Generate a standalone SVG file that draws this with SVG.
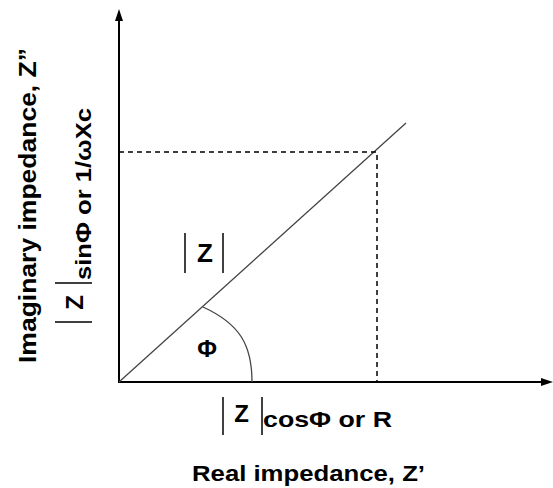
<svg xmlns="http://www.w3.org/2000/svg" width="553" height="488" viewBox="0 0 553 488">
<style>
.t{font-family:"Liberation Sans",Arial,sans-serif;font-weight:bold;fill:#000}
.axis{stroke:#000;stroke-width:2;fill:none}
.bar{stroke:#000;stroke-width:1.5}
.dash{stroke:#000;stroke-width:1.5;stroke-dasharray:5,4;fill:none}
.diag{stroke:#444;stroke-width:1.3;fill:none}
</style>
<rect width="553" height="488" fill="#fff"/>
<g id="connectors">
<line class="axis" x1="119" y1="382" x2="119" y2="18"/>
<polygon points="119,9 115,21 123,21" fill="#000"/>
<line class="axis" x1="118" y1="382" x2="544" y2="382"/>
<polygon points="553,382 541,378 541,386" fill="#000"/>
<line class="diag" x1="119" y1="382" x2="406" y2="123"/>
<polyline class="dash" points="119,152 377,152 377,382"/>
<path class="diag" d="M203,307 C240,324 252,345 252,382"/>
</g>
<g id="phi">
<text class="t" x="207" y="357" font-size="24" text-anchor="middle">Φ</text>
</g>
<g id="mag-z">
<line class="bar" x1="185" y1="233" x2="185" y2="273"/>
<line class="bar" x1="223" y1="233" x2="223" y2="273"/>
<text class="t" x="205" y="262" font-size="26" text-anchor="middle">Z</text>
</g>
<g id="x-value">
<line class="bar" x1="223" y1="397" x2="223" y2="435"/>
<line class="bar" x1="262" y1="397" x2="262" y2="435"/>
<text class="t" x="241.5" y="422" font-size="24" text-anchor="middle">Z</text>
<text class="t" x="263" y="427" font-size="22" textLength="129" lengthAdjust="spacingAndGlyphs">cosΦ or R</text>
</g>
<g id="x-title">
<text class="t" x="192" y="481" font-size="22" textLength="233" lengthAdjust="spacingAndGlyphs">Real impedance, Z’</text>
</g>
<g id="y-title">
<text class="t" transform="translate(36,363) rotate(-90)" font-size="24" textLength="315" lengthAdjust="spacingAndGlyphs">Imaginary impedance, Z”</text>
</g>
<g id="y-value">
<line class="bar" x1="55" y1="283" x2="92" y2="283"/>
<line class="bar" x1="55" y1="322" x2="92" y2="322"/>
<text class="t" transform="translate(83,302.5) rotate(-90)" font-size="24" text-anchor="middle">Z</text>
<text class="t" transform="translate(91,280) rotate(-90)" font-size="22" textLength="172" lengthAdjust="spacingAndGlyphs">sinΦ or 1/ωXc</text>
</g>
</svg>
